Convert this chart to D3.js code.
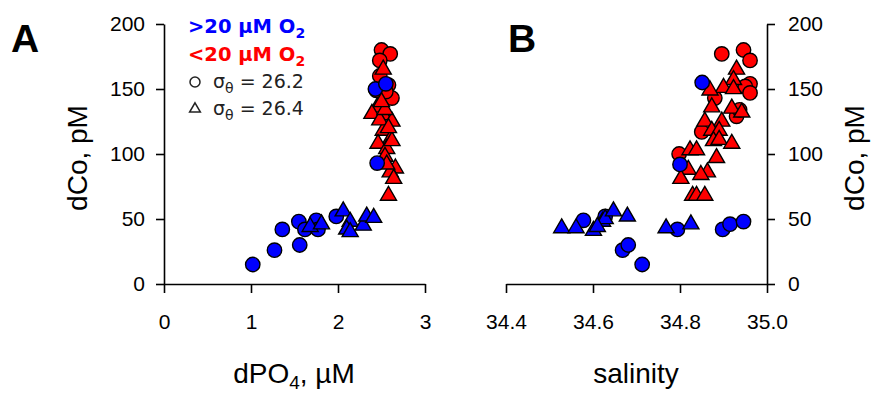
<!DOCTYPE html>
<html>
<head>
<meta charset="utf-8">
<script src="https://cdn.jsdelivr.net/npm/d3@7"></script>
<style>
  body { margin: 0; background: #fff; }
  .tick text { font-family: "Liberation Sans", Arial, sans-serif; font-size: 21px; fill: #000; }
  .domain, .tick line { stroke: #000; stroke-width: 1.6px; }
</style>
</head>
<body>
<div id="chart"></div>
<script>
// dCo (pM) vs dPO4 (uM), panel A
const redCirclesA = [[2.50,180],[2.60,177],[2.48,172],[2.58,153],[2.62,143],[2.48,160],[2.44,149],[2.55,148]];
const redTrianglesA = [[2.52,165],[2.45,136],[2.39,131],[2.52,130],[2.62,125],[2.52,118],[2.60,111],[2.46,108],
  [2.56,104],[2.62,110],[2.54,98],[2.66,89],[2.60,86],[2.64,81],[2.58,68],[2.48,126],[2.54,134],[2.58,120],[2.50,140],[2.56,92]];
const blueCirclesA = [[1.02,15],[1.27,26],[1.36,42],[1.56,30],[1.55,48],[1.62,42],[1.75,49],[1.77,42],[1.98,52],
  [2.43,150],[2.55,154],[2.45,93]];
const blueTrianglesA = [[1.68,44],[1.81,46],[2.06,56],[2.14,48],[2.10,42],[2.14,40],[2.29,45],[2.33,52],[2.41,51]];

// dCo (pM) vs salinity, panel B
const redCirclesB = [[34.896,177],[34.946,180],[34.961,172],[34.961,154],[34.95,152],[34.961,147],[34.88,143],
  [34.93,129],[34.937,134],[34.85,117],[34.798,100]];
const redTrianglesB = [[34.93,165],[34.923,157],[34.90,151],[34.923,150],[34.869,149],[34.873,136],[34.919,135],
  [34.942,132],[34.857,125],[34.896,125],[34.873,118],[34.89,118],[34.877,110],[34.89,111],[34.919,108],
  [34.823,103],[34.838,103],[34.884,97],[34.863,86],[34.819,88],[34.802,81],[34.848,84],[34.829,68],[34.838,68],[34.857,68]];
const blueCirclesB = [[34.578,49],[34.628,52],[34.668,26],[34.681,30],[34.713,15],[34.794,42],[34.851,155],
  [34.80,92],[34.898,42],[34.915,46],[34.946,48]];
const blueTrianglesB = [[34.528,43],[34.561,43],[34.601,41],[34.622,48],[34.628,50],[34.647,56],[34.679,52],
  [34.768,43],[34.825,46],[34.61,44]];

const yTicks = [0, 50, 100, 150, 200];
const xTicksA = [0, 1, 2, 3];
const xTicksB = [34.4, 34.6, 34.8, 35.0];

const width = 872, height = 393;
const svg = d3.select('#chart').append('svg')
  .attr('width', width)
  .attr('height', height);

const y = d3.scaleLinear().domain([0, 200]).range([284, 24]);
const xA = d3.scaleLinear().domain([0, 3]).range([164, 425]);
const xB = d3.scaleLinear().domain([34.4, 35.0]).range([506, 767]);

// axes
svg.append('g')
  .attr('transform', 'translate(164,0)')
  .call(d3.axisLeft(y).tickValues(yTicks).tickSize(8).tickSizeOuter(0).tickPadding(11));
svg.append('g')
  .attr('transform', 'translate(0,284)')
  .call(d3.axisBottom(xA).tickValues(xTicksA).tickFormat(d3.format('d')).tickSize(9).tickSizeOuter(0).tickPadding(21));
svg.append('g')
  .attr('transform', 'translate(767,0)')
  .call(d3.axisRight(y).tickValues(yTicks).tickSize(8).tickSizeOuter(0).tickPadding(13));
svg.append('g')
  .attr('transform', 'translate(0,284)')
  .call(d3.axisBottom(xB).tickValues(xTicksB).tickFormat(d3.format('.1f')).tickSize(9).tickSizeOuter(0).tickPadding(21));

// markers
const tri = d3.symbol().type(d3.symbolTriangle).size(112);
function drawCircles(data, x, color) {
  svg.append('g').selectAll('circle')
    .data(data)
    .enter()
    .append('circle')
    .attr('cx', d => x(d[0]))
    .attr('cy', d => y(d[1]))
    .attr('r', 7.2)
    .attr('fill', color)
    .attr('stroke', '#000')
    .attr('stroke-width', 1.4);
}
function drawTriangles(data, x, color) {
  svg.append('g').selectAll('path')
    .data(data)
    .enter()
    .append('path')
    .attr('d', tri)
    .attr('transform', d => `translate(${x(d[0])},${y(d[1])})`)
    .attr('fill', color)
    .attr('stroke', '#000')
    .attr('stroke-width', 1.4);
}
drawCircles(redCirclesA, xA, '#ff0000');
drawTriangles(redTrianglesA, xA, '#ff0000');
drawCircles(blueCirclesA, xA, '#0000ff');
drawTriangles(blueTrianglesA, xA, '#0000ff');
drawCircles(redCirclesB, xB, '#ff0000');
drawTriangles(redTrianglesB, xB, '#ff0000');
drawCircles(blueCirclesB, xB, '#0000ff');
drawTriangles(blueTrianglesB, xB, '#0000ff');

// panel letters
svg.append('text').attr('x', 11).attr('y', 52)
  .style('font', 'bold 39px "Liberation Sans", Arial, sans-serif').text('A');
svg.append('text').attr('x', 508).attr('y', 52)
  .style('font', 'bold 39px "Liberation Sans", Arial, sans-serif').text('B');

// axis titles
const titleFont = '28px "Liberation Sans", Arial, sans-serif';
svg.append('text')
  .attr('transform', 'translate(87,158) rotate(-90)')
  .attr('text-anchor', 'middle')
  .style('font', titleFont)
  .text('dCo, pM');
svg.append('text')
  .attr('transform', 'translate(864,158) rotate(-90)')
  .attr('text-anchor', 'middle')
  .style('font', titleFont)
  .text('dCo, pM');

const xtA = svg.append('text')
  .attr('x', 294).attr('y', 383)
  .attr('text-anchor', 'middle')
  .style('font', titleFont);
xtA.append('tspan').text('dPO');
xtA.append('tspan').attr('dy', 6).style('font-size', '19px').text('4');
xtA.append('tspan').attr('dy', -6).text(', \u00b5M');

svg.append('text')
  .attr('x', 636).attr('y', 383)
  .attr('text-anchor', 'middle')
  .style('font', titleFont)
  .text('salinity');

// legend
const legFont = '"DejaVu Sans", sans-serif';
const legRows = [
  { text: '>20 \u00b5M O', color: '#0000ff', y: 33 },
  { text: '<20 \u00b5M O', color: '#ff0000', y: 61 }
];
legRows.forEach(r => {
  const t = svg.append('text')
    .attr('x', 188).attr('y', r.y)
    .attr('fill', r.color)
    .style('font-family', legFont)
    .style('font-weight', 'bold')
    .style('font-size', '19.5px');
  t.append('tspan').text(r.text);
  t.append('tspan').attr('dy', 5).style('font-size', '14px').text('2');
});

const sigmaRows = [
  { shape: 'circle', label: ' = 26.2', y: 88 },
  { shape: 'triangle', label: ' = 26.4', y: 115 }
];
sigmaRows.forEach(r => {
  if (r.shape === 'circle') {
    svg.append('circle').attr('cx', 195).attr('cy', r.y - 6).attr('r', 5)
      .attr('fill', 'none').attr('stroke', '#222').attr('stroke-width', 1.5);
  } else {
    svg.append('path').attr('d', d3.symbol().type(d3.symbolTriangle).size(50))
      .attr('transform', `translate(195,${r.y - 6})`)
      .attr('fill', 'none').attr('stroke', '#222').attr('stroke-width', 1.5);
  }
  const t = svg.append('text')
    .attr('x', 213).attr('y', r.y)
    .attr('fill', '#222')
    .style('font-family', legFont)
    .style('font-size', '19px');
  t.append('tspan').text('\u03c3');
  t.append('tspan').attr('dy', 5).style('font-size', '14px').text('\u03b8');
  t.append('tspan').attr('dy', -5).text(r.label);
});
</script>
</body>
</html>
